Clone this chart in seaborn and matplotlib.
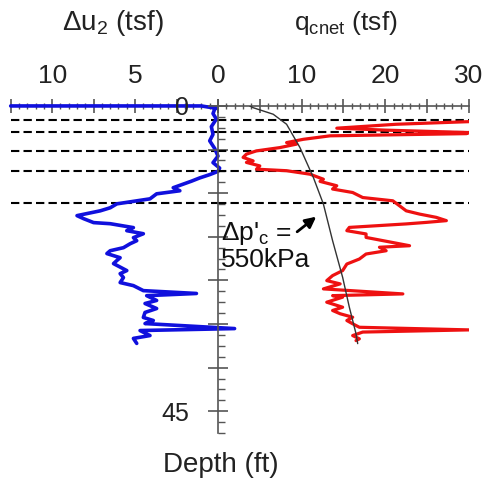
import matplotlib
matplotlib.use("Agg")
import matplotlib.pyplot as plt
import seaborn as sns
import numpy as np
from matplotlib.ticker import MultipleLocator, FixedLocator, FixedFormatter

# Excess pore pressure du2 (tsf) vs depth
du2_depth = [0.0, 0.0, 0.05, 0.10, 0.15, 0.35, 0.60, 0.95, 1.30, 1.60, 1.95, 2.30, 2.60,
             2.85, 3.00, 3.15, 3.30, 3.45, 3.75, 3.89, 4.03, 4.26, 4.49, 4.67, 4.81,
             5.03, 5.17, 5.35, 5.40, 5.58, 5.72, 5.86, 6.04, 6.18, 6.32, 6.50, 6.64,
             6.77, 6.96, 7.09, 7.23, 7.55, 7.69, 7.87, 8.10, 8.24, 8.47, 8.60, 8.70,
             8.92, 9.06, 9.29, 9.47, 9.70, 9.84, 9.98, 10.21, 10.30, 10.53, 10.66, 10.89]
du2_value = [12.5, 1.0, 0.6, 0.1, 0.2, 0.3, 0.1, 0.4, 0.3, 0.5, 0.2, 0.0, 0.3,
             -0.1, 0.0, 0.5, 1.1, 1.6, 2.7, 2.3, 3.7, 4.1, 6.1, 6.5, 7.1,
             8.5, 8.1, 7.5, 6.5, 5.1, 5.5, 4.5, 5.1, 4.9, 5.3, 5.7, 6.5,
             6.7, 5.9, 6.1, 6.3, 5.5, 5.9, 5.7, 5.9, 5.1, 4.5, 1.3, 4.3,
             3.7, 4.4, 3.7, 4.4, 4.5, 3.9, 4.4, -1.0, 4.7, 4.1, 5.1, 4.9]

# Net cone resistance qcnet (tsf) vs depth
q_depth = [0.72, 0.84, 1.02, 1.11, 1.22, 1.27, 1.37, 1.53, 1.68, 1.75, 1.91, 2.06, 2.21,
           2.36, 2.52, 2.59, 2.75, 2.90, 2.97, 3.13, 3.36, 3.46, 3.66, 3.81, 3.97,
           4.20, 4.35, 4.58, 4.81, 4.96, 5.11, 5.26, 5.34, 5.41, 5.57, 5.72, 5.87,
           6.03, 6.41, 6.48, 6.64, 6.79, 7.02, 7.25, 7.55, 7.78, 8.01, 8.16, 8.39,
           8.62, 8.70, 8.77, 9.00, 9.23, 9.38, 9.53, 9.69, 9.84, 9.99, 10.15, 10.27,
           10.37, 10.53, 10.68, 10.76]
q_value = [30.0, 21.3, 14.2, 20.1, 30.0, 29.7, 13.4, 10.2, 8.2, 9.4, 7.4, 4.6, 3.4,
           3.0, 4.2, 3.4, 5.0, 4.6, 8.2, 11.0, 12.6, 12.2, 14.2, 13.7, 16.1,
           17.3, 20.9, 21.7, 22.5, 24.1, 26.1, 27.3, 24.9, 22.5, 15.7, 15.4, 17.7,
           17.7, 22.9, 19.3, 20.1, 17.7, 16.9, 15.4, 14.9, 13.7, 13.0, 14.6, 12.6,
           22.1, 13.7, 14.9, 13.0, 14.9, 13.7, 14.6, 16.1, 15.4, 16.1, 16.9, 30.0,
           17.3, 16.1, 16.9, 16.5]

# Reference curve for delta p'c = 550 kPa
ref_depth = [0.0, 0.08, 0.38, 0.84, 1.91, 3.28, 4.50, 6.18, 7.86, 9.23, 10.45, 10.9]
ref_value = [3.8, 4.2, 6.6, 8.2, 9.8, 11.4, 12.6, 13.7, 14.9, 15.7, 16.5, 16.7]

# Layer boundaries (dashed lines)
layer_depths = [0.65, 1.2, 2.05, 3.0, 4.45]

depth_ticks = [0, 2, 4, 6, 8, 10, 12, 14]
depth_labels = ["0", "", "", "", "", "", "", "45"]

sns.set_theme(style="white")
plt.rcParams['font.family'] = ['Liberation Sans', 'DejaVu Sans']
plt.rcParams['mathtext.fontset'] = 'custom'
plt.rcParams['mathtext.rm'] = 'Liberation Sans'
plt.rcParams['mathtext.it'] = 'Liberation Sans:italic'

fig = plt.figure(figsize=(4.88, 4.86), dpi=100)
ax_l = fig.add_axes([0.0219, 0.109, 0.4248, 0.673])
ax_r = fig.add_axes([0.4467, 0.109, 0.5143, 0.673])
for ax in (ax_l, ax_r):
    ax.set_facecolor('none')
    ax.set_ylim(15, 0)
    for s in ax.spines.values():
        s.set_visible(False)
    ax.spines['top'].set_visible(True)
    ax.spines['top'].set_color('#555555')
    ax.spines['top'].set_linewidth(1.2)
    ax.xaxis.tick_top()
    ax.tick_params(axis='x', which='major', direction='inout', length=10, width=1.2,
                   color='#555555', labelsize=19, pad=8, labelcolor='#222222')
    ax.tick_params(axis='x', which='minor', direction='inout', length=5, width=1,
                   color='#555555')
    for d in layer_depths:
        ax.axhline(d, color='black', lw=1.5, ls=(0, (4, 2)), zorder=1)

# left panel: du2
sns.lineplot(x=du2_value, y=du2_depth, sort=False, estimator=None, ax=ax_l,
             color='#1010dd', lw=2.6, zorder=3, clip_on=False)
ax_l.set_xlim(12.5, 0)
ax_l.xaxis.set_major_locator(FixedLocator([0, 2.5, 5, 7.5, 10, 12.5]))
ax_l.xaxis.set_major_formatter(FixedFormatter(["0", "", "5", "", "10", ""]))
ax_l.xaxis.set_minor_locator(MultipleLocator(0.5))
ax_l.set_yticks([])
ax_l.set_xlabel("")
ax_l.set_ylabel("")

# right panel: qcnet
sns.lineplot(x=q_value, y=q_depth, sort=False, estimator=None, ax=ax_r,
             color='#ee1111', lw=2.3, zorder=3)
sns.lineplot(x=ref_value, y=ref_depth, sort=False, estimator=None, ax=ax_r,
             color='#333333', lw=1.0, zorder=4)
ax_r.set_xlim(0, 30)
ax_r.xaxis.set_major_locator(FixedLocator([0, 5, 10, 15, 20, 25, 30]))
ax_r.xaxis.set_major_formatter(FixedFormatter(["", "", "10", "", "20", "", "30"]))
ax_r.xaxis.set_minor_locator(MultipleLocator(1))
ax_r.set_xlabel("")
ax_r.set_ylabel("")

# depth axis in the middle
ax_r.spines['left'].set_visible(True)
ax_r.spines['left'].set_color('#555555')
ax_r.spines['left'].set_linewidth(1.2)
ax_r.yaxis.set_major_locator(FixedLocator(depth_ticks))
ax_r.yaxis.set_major_formatter(FixedFormatter(depth_labels))
ax_r.yaxis.set_minor_locator(MultipleLocator(0.5))
ax_r.tick_params(axis='y', which='major', direction='inout', length=14, width=1.2,
                 color='#555555', labelsize=18, pad=14, labelcolor='#222222', left=True)
ax_r.tick_params(axis='y', which='minor', direction='in', length=5, width=1,
                 color='#555555', left=True)

ax_r.text(0.4, 5.85, "Δp'$_{\\rm c}$ =", fontsize=19, color='#111111', va='center', ha='left')
ax_r.text(0.4, 7.05, "550kPa", fontsize=19, color='#111111', va='center', ha='left')
ax_r.annotate("", xy=(12.0, 5.0), xytext=(9.2, 5.85),
              arrowprops=dict(arrowstyle='-|>', color='black', lw=2, mutation_scale=16))

fig.text(0.2316, 0.952, "Δu$_2$ (tsf)", fontsize=20, ha='center', va='center', color='#222222')
fig.text(0.709, 0.952, "q$_{\\rm cnet}$ (tsf)", fontsize=19, ha='center', va='center', color='#222222')
fig.text(0.452, 0.043, "Depth (ft)", fontsize=20, ha='center', va='center', color='#222222')

fig.savefig("out.png", dpi=100)
